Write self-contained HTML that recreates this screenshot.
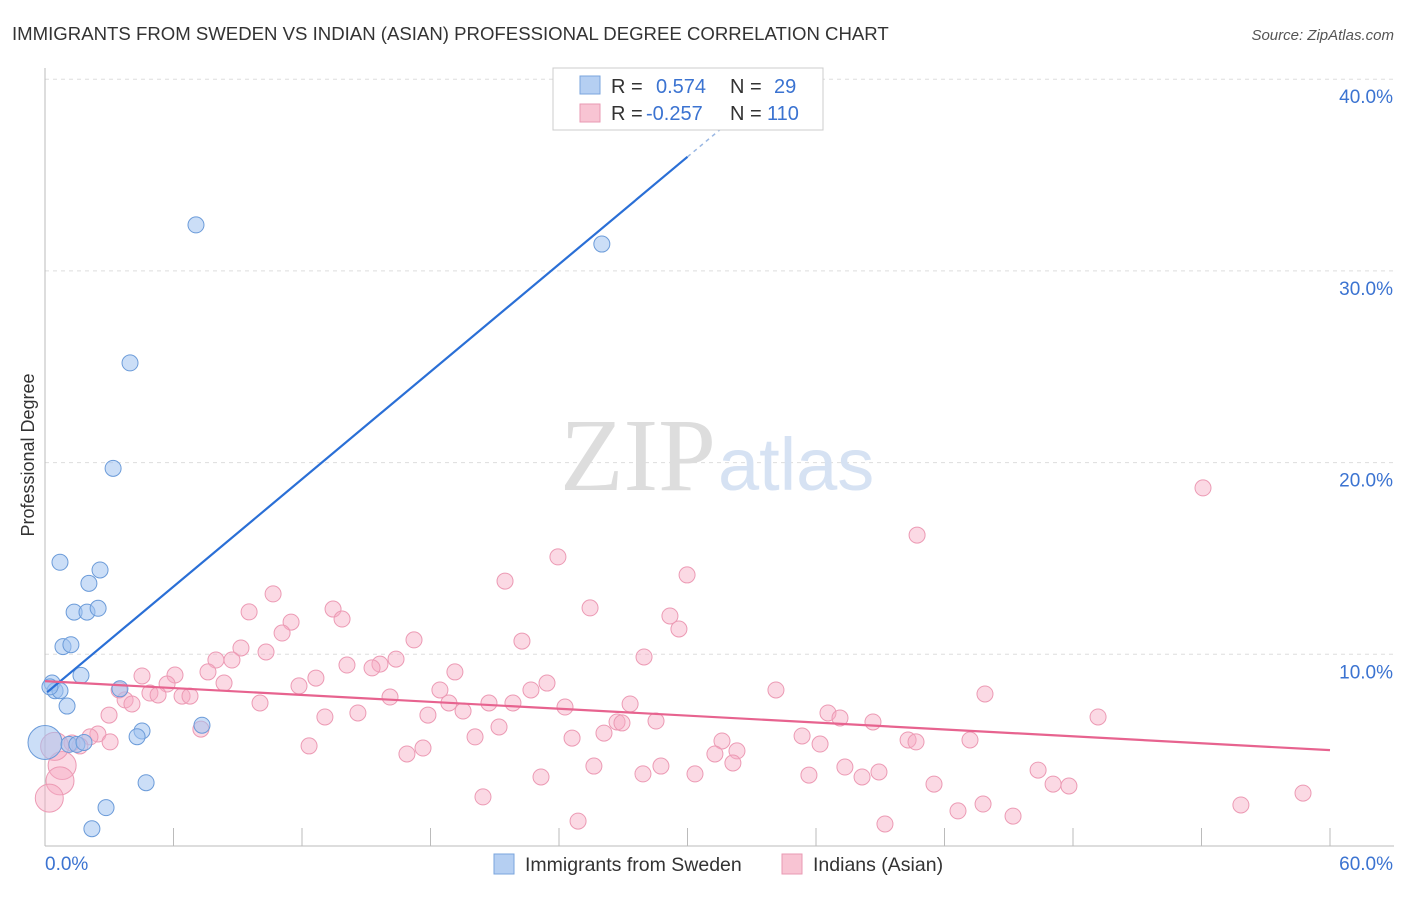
<!DOCTYPE html>
<html><head><meta charset="utf-8"><style>
body{margin:0;background:#fff;font-family:"Liberation Sans",sans-serif;}
svg text{font-family:"Liberation Sans",sans-serif;}
</style></head><body>
<svg id="c" width="1406" height="892" xmlns="http://www.w3.org/2000/svg">
<text x="12" y="40" font-size="18.6" fill="#333">IMMIGRANTS FROM SWEDEN VS INDIAN (ASIAN) PROFESSIONAL DEGREE CORRELATION CHART</text>
<text x="1394" y="40" font-size="15" fill="#555" font-style="italic" text-anchor="end">Source: ZipAtlas.com</text>
<g id="grid"></g>
<text x="716" y="490" font-size="104" fill="#ddd" text-anchor="end" style="font-family:'Liberation Serif',serif">ZIP</text>
<text x="718" y="490" font-size="74" fill="#d6e2f3">atlas</text>
<g id="pts"></g>
<text x="34" y="455" font-size="18" fill="#333" text-anchor="middle" transform="rotate(-90 34 455)">Professional Degree</text>
<g>
<rect x="553" y="68" width="270" height="62" fill="#fff" stroke="#ccc"/>
<rect x="580" y="76" width="20" height="18" fill="#b5cff2" stroke="#7aa4dd"/>
<rect x="580" y="104" width="20" height="18" fill="#f8c4d3" stroke="#e99ab3"/>
<text x="611" y="93" font-size="20" fill="#333" xml:space="preserve">R = <tspan x="656" fill="#3b73d1">0.574</tspan><tspan x="730">N =</tspan><tspan x="774" fill="#3b73d1">29</tspan></text>
<text x="611" y="120" font-size="20" fill="#333" xml:space="preserve">R = <tspan x="646" fill="#3b73d1">-0.257</tspan><tspan x="730">N =</tspan><tspan x="767" fill="#3b73d1">110</tspan></text>
</g>
<g>
<rect x="494" y="854" width="20" height="20" fill="#b5cff2" stroke="#7aa4dd"/>
<text x="525" y="871" font-size="19.5" fill="#333">Immigrants from Sweden</text>
<rect x="782" y="854" width="20" height="20" fill="#f8c4d3" stroke="#e99ab3"/>
<text x="813" y="871" font-size="19.5" fill="#333">Indians (Asian)</text>
</g>
</svg>
<script>
const xTicks=[0,60];
const yTicks=[10,20,30,40];
const blueX=[7.05,26.0,3.97,3.18,0.7,2.57,2.05,1.36,1.96,2.48,0.84,1.21,1.68,0.33,0.47,0.7,3.5,1.03,0,1.12,1.49,1.82,4.53,4.3,7.33,4.72,2.85,2.19,0.23];
const blueY=[32.4,31.4,25.2,19.7,14.8,14.4,13.7,12.2,12.2,12.4,10.4,10.5,8.9,8.5,8.1,8.1,8.2,7.3,5.4,5.3,5.3,5.4,6.0,5.7,6.3,3.3,2.0,0.9,8.3];
const pinkPx=[[1203,488],[917,535],[558,557],[687,575],[505,581],[273,594],[590,608],[249,612],[333,609],[291,622],[342,619],[670,616],[282,633],[679,629],[414,640],[522,641],[241,648],[266,652],[644,657],[216,660],[232,660],[347,665],[396,659],[380,664],[372,668],[455,672],[175,675],[142,676],[208,672],[316,678],[224,683],[167,684],[299,686],[440,690],[547,683],[531,690],[776,690],[985,694],[119,690],[150,693],[158,695],[182,696],[190,696],[260,703],[390,697],[489,703],[513,703],[449,703],[630,704],[565,707],[125,700],[132,704],[428,715],[463,711],[358,713],[325,717],[828,713],[840,718],[873,722],[1098,717],[656,721],[617,722],[622,723],[109,715],[201,729],[499,727],[604,733],[98,734],[90,737],[572,738],[475,737],[309,746],[722,741],[802,736],[970,740],[820,744],[908,740],[916,742],[737,751],[715,754],[423,748],[407,754],[80,746],[72,743],[110,742],[594,766],[661,766],[733,763],[845,767],[879,772],[541,777],[643,774],[695,774],[809,775],[862,777],[1038,770],[1053,784],[1069,786],[934,784],[483,797],[983,804],[958,811],[1241,805],[1303,793],[1013,816],[578,821],[885,824]];
const pinkX=pinkPx.map(p=>+((p[0]-45)/1285*60).toFixed(2));
const pinkY=pinkPx.map(p=>+((846-p[1])/19.17).toFixed(2));
const bigPinkX=[0.8,0.7,0.2,0.45];
const bigPinkY=[4.2,3.4,2.5,5.2];
const blueTrend=[7.93,0.934];
const pinkTrend=[8.6,-0.06];

const X0=45,X1=1330,Y0=846,PY=19.17;
const sx=v=>X0+v/60*(X1-X0), sy=v=>Y0-v*PY;
const NS="http://www.w3.org/2000/svg";
function mk(t,a,p){const e=document.createElementNS(NS,t);for(const k in a)e.setAttribute(k,a[k]);p.appendChild(e);return e;}
const g=document.getElementById('grid');
yTicks.forEach(t=>{
 const l=mk('line',{x1:X0,x2:1394,y1:sy(t),y2:sy(t),stroke:'#ddd','stroke-dasharray':'4,4'},g);
 
 
 const tx=mk('text',{x:1393,y:sy(t)+24,'font-size':19,fill:'#3b73d1','text-anchor':'end'},g);
 tx.textContent=t.toFixed(1)+'%';
 
 
});
const ax=mk('line',{x1:X0,x2:X0,y1:68,y2:Y0,stroke:'#bbb'},g);


const bx=mk('line',{x1:X0,x2:1394,y1:Y0,y2:Y0,stroke:'#bbb'},g);


for(let i=1;i<=10;i++){const t=mk('line',{x1:sx(i*6),x2:sx(i*6),y1:Y0,y2:Y0-18,stroke:'#bbb'},g);

}
xTicks.forEach((t,i)=>{const tx=mk('text',{x:i?1393:45,y:870,'font-size':19,fill:'#3b73d1','text-anchor':i?'end':'start'},g);
tx.textContent=t.toFixed(1)+'%';

});
const p=document.getElementById('pts');
pinkX.forEach((x,i)=>{const c=mk('circle',{cx:sx(x),cy:sy(pinkY[i]),r:8,fill:'rgba(246,170,195,0.45)',stroke:'#ec9ab4','stroke-width':1},p);

});
bigPinkX.forEach((x,i)=>{const c=mk('circle',{cx:sx(x),cy:sy(bigPinkY[i]),r:14,fill:'rgba(246,170,195,0.45)',stroke:'#ec9ab4'},p);

});
blueX.forEach((x,i)=>{const c=mk('circle',{cx:sx(x),cy:sy(blueY[i]),r:x===0?17:8,fill:'rgba(160,195,240,0.55)',stroke:'#6b9bd9'},p);

});
const bl=mk('line',{x1:sx(0.1),y1:sy(blueTrend[0]+0.1*blueTrend[1]),x2:sx(30),y2:sy(blueTrend[0]+30*blueTrend[1]),stroke:'#2a6fd6','stroke-width':2.2},p);


const bd=mk('line',{x1:sx(30),y1:sy(blueTrend[0]+30*blueTrend[1]),x2:sx(34.3),y2:sy(blueTrend[0]+34.3*blueTrend[1]),stroke:'#9bb8e3','stroke-width':1.5,'stroke-dasharray':'4,4'},p);


const pl=mk('line',{x1:sx(0),y1:sy(pinkTrend[0]),x2:sx(60),y2:sy(pinkTrend[0]+60*pinkTrend[1]),stroke:'#e7638f','stroke-width':2.2},p);


</script>
</body></html>
